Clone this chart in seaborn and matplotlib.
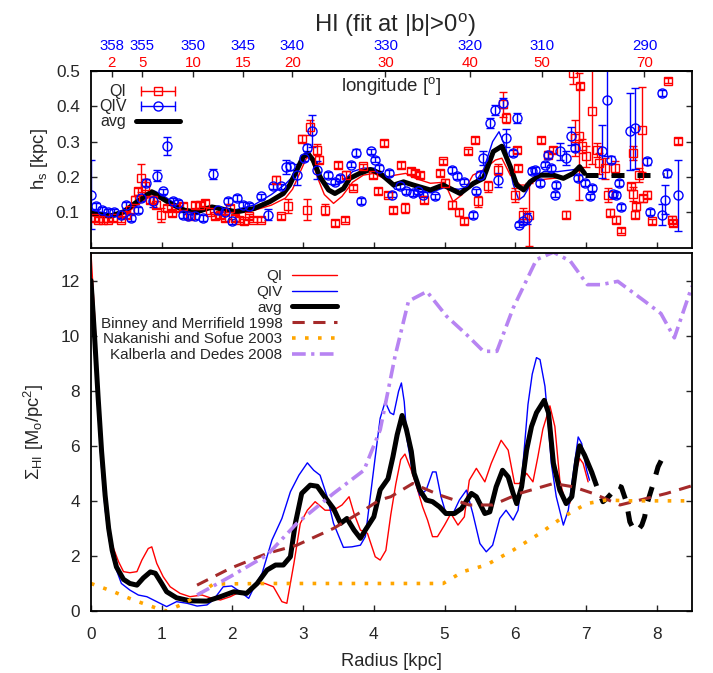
import numpy as np
import matplotlib
matplotlib.use("Agg")
import matplotlib.pyplot as plt
import seaborn as sns
from matplotlib.lines import Line2D
from matplotlib.legend_handler import HandlerLine2D, HandlerTuple

# ---------------- surface density profiles (bottom panel) ----------------
avg_r = [0.0, 0.05, 0.1, 0.15, 0.2, 0.25, 0.3, 0.36, 0.46, 0.55, 0.65, 0.74, 0.84, 0.91, 1.0,
         1.07, 1.21, 1.40, 1.64, 1.83, 2.02, 2.2, 2.35, 2.49, 2.61, 2.72, 2.82, 2.89, 2.98,
         3.1, 3.2, 3.29, 3.43, 3.53, 3.62, 3.72, 3.81, 3.88, 4.0, 4.09, 4.2, 4.27, 4.33, 4.4,
         4.46, 4.53, 4.57, 4.65, 4.74, 4.83, 4.93, 5.02, 5.14, 5.24, 5.38, 5.45, 5.57, 5.64,
         5.73, 5.82, 5.9, 5.97, 6.02, 6.09, 6.16, 6.23, 6.30, 6.41, 6.47, 6.54, 6.63, 6.72,
         6.8, 6.87, 6.91, 6.98, 7.08]
avg_s = [12.0, 10.0, 7.8, 5.8, 4.2, 3.0, 2.2, 1.6, 1.15, 1.0, 0.94, 1.2, 1.42, 1.37, 1.0,
         0.7, 0.48, 0.37, 0.36, 0.52, 0.70, 0.64, 1.0, 1.49, 1.67, 1.67, 1.97, 3.18, 4.27,
         4.57, 4.53, 4.2, 3.72, 3.18, 3.36, 2.94, 2.64, 2.94, 3.42, 4.4, 4.8, 5.6, 6.4, 7.1,
         6.6, 5.8, 5.0, 4.39, 4.03, 3.97, 3.78, 3.54, 3.54, 3.72, 4.27, 4.15, 3.54, 3.6,
         4.51, 5.11, 4.87, 4.27, 3.9, 4.51, 5.84, 6.7, 7.2, 7.65, 7.2, 5.36, 4.39, 3.9,
         4.15, 5.48, 6.0, 5.66, 5.05]
# outer part of the average profile (uncertain, drawn dashed)
avg_out_r = [7.08, 7.17, 7.24, 7.3, 7.38, 7.43, 7.5, 7.57, 7.62, 7.69, 7.74, 7.79, 7.83,
             7.86, 7.9, 7.96, 8.02, 8.09]
avg_out_s = [5.05, 4.4, 3.97, 4.1, 4.33, 4.57, 4.5, 3.97, 3.24, 2.88, 2.95, 3.12, 3.42,
             3.85, 4.2, 4.7, 5.24, 5.6]

qi_r = [0.0, 0.05, 0.1, 0.15, 0.2, 0.25, 0.3, 0.39, 0.46, 0.55, 0.65, 0.72, 0.81, 0.86, 0.93,
        1.02, 1.12, 1.26, 1.40, 1.57, 1.71, 1.83, 1.97, 2.11, 2.23, 2.35, 2.46, 2.58, 2.70,
        2.77, 2.87, 2.96, 3.06, 3.17, 3.31, 3.43, 3.55, 3.65, 3.72, 3.81, 3.91, 4.02, 4.09,
        4.17, 4.24, 4.31, 4.38, 4.44, 4.53, 4.62, 4.69, 4.76, 4.83, 4.90, 5.0, 5.09, 5.19,
        5.28, 5.35, 5.45, 5.57, 5.66, 5.80, 5.90, 5.99, 6.06, 6.16, 6.25, 6.32, 6.39, 6.49,
        6.56, 6.63, 6.70, 6.77, 6.84, 6.91, 6.96, 7.03]
qi_s = [13.0, 10.8, 8.3, 6.0, 4.3, 3.1, 2.4, 1.79, 1.43, 1.39, 1.43, 1.85, 2.27, 2.33, 1.73,
        1.25, 0.88, 0.64, 0.52, 0.58, 0.46, 0.40, 0.52, 0.70, 0.70, 1.0, 1.0, 0.88, 0.34,
        0.28, 1.73, 3.18, 3.66, 3.97, 3.66, 3.66, 3.85, 4.15, 3.54, 2.94, 2.82, 1.97, 1.85,
        2.2, 3.5, 4.6, 5.5, 5.7, 5.11, 4.39, 3.78, 3.30, 2.70, 2.70, 3.12, 3.54, 3.12,
        3.42, 4.75, 5.18, 4.69, 5.36, 6.2, 5.84, 4.63, 4.63, 5.0, 4.69, 5.6, 6.6, 7.45,
        6.7, 4.75, 4.03, 3.9, 4.87, 5.54, 5.36, 4.69]

qiv_r = [0.0, 0.05, 0.1, 0.15, 0.2, 0.25, 0.3, 0.36, 0.43, 0.55, 0.67, 0.79, 0.93, 1.07,
         1.21, 1.36, 1.50, 1.64, 1.73, 1.87, 1.99, 2.11, 2.23, 2.32, 2.42, 2.56, 2.70, 2.82,
         2.94, 3.06, 3.15, 3.24, 3.34, 3.43, 3.57, 3.69, 3.81, 3.88, 3.95, 4.02, 4.09, 4.16,
         4.23, 4.28, 4.35, 4.39, 4.43, 4.47, 4.55, 4.65, 4.74, 4.83, 4.88, 4.95, 5.02, 5.12,
         5.21, 5.31, 5.40, 5.50, 5.59, 5.68, 5.78, 5.87, 5.97, 6.04, 6.11, 6.18, 6.24, 6.30,
         6.35, 6.42, 6.47, 6.51, 6.58, 6.68, 6.75, 6.82, 6.89, 6.94, 7.01, 7.05]
qiv_s = [11.5, 9.5, 7.2, 5.2, 3.7, 2.7, 2.0, 1.49, 1.0, 0.76, 0.58, 0.52, 0.34, 0.16,
         0.34, 0.28, 0.18, 0.22, 0.40, 0.88, 0.91, 0.70, 0.46, 0.94, 1.37, 2.58, 3.36, 4.33,
         4.93, 5.38, 5.11, 4.93, 4.15, 3.18, 2.31, 2.33, 2.39, 2.70, 4.15, 5.6, 7.0, 7.6,
         7.2, 7.13, 7.98, 8.28, 7.6, 6.22, 5.0, 4.2, 4.39, 5.05, 5.05, 4.15, 3.54, 3.54,
         4.03, 4.39, 3.54, 2.45, 2.15, 2.39, 3.36, 3.66, 3.30, 3.66, 5.36, 7.5, 8.6, 9.2,
         9.13, 8.16, 6.7, 5.36, 4.15, 3.12, 3.66, 5.0, 6.32, 6.08, 5.11, 4.75]

# published profiles for comparison
bm_r = [1.5, 1.97, 2.49, 2.91, 3.43, 3.86, 4.08, 4.24, 4.55, 4.93, 5.35, 5.68, 6.06, 6.54,
        6.82, 7.1, 7.48, 7.86, 8.14, 8.5]
bm_s = [0.94, 1.55, 2.09, 2.39, 3.0, 3.66, 4.03, 4.15, 4.63, 4.21, 3.85, 3.85, 4.27, 4.63,
        4.51, 4.27, 3.85, 4.09, 4.27, 4.55]
ns_r = [0.0, 0.32, 0.6, 0.93, 1.07, 1.25, 1.40, 1.55, 1.73, 2.5, 3.5, 4.5, 4.98, 5.26, 5.59,
        5.97, 6.35, 6.68, 7.01, 7.29, 7.6, 8.0, 8.5]
ns_s = [1.0, 0.7, 0.4, 0.1, 0.0, 0.2, 0.4, 0.64, 0.98, 1.0, 1.0, 1.0, 1.0, 1.43, 1.67,
        2.21, 2.82, 3.42, 3.9, 4.03, 4.0, 4.0, 4.0]
kd_r = [1.5, 1.97, 2.49, 2.91, 3.43, 3.86, 4.09, 4.3, 4.49, 4.75, 5.03, 5.31, 5.55, 5.74,
        5.97, 6.3, 6.54, 6.78, 7.02, 7.21, 7.45, 7.83, 8.06, 8.25, 8.5]
kd_s = [0.58, 1.25, 2.03, 3.18, 4.27, 5.11, 6.58, 9.25, 11.25, 11.6, 10.7, 10.04, 9.43, 9.43,
        11.0, 12.76, 13.03, 12.7, 11.85, 11.85, 11.97, 11.25, 10.8, 9.92, 11.8]

# ---------------- scale heights (top panel) ----------------
havg_r = [0.0, 0.27, 0.46, 0.62, 0.79, 0.86, 0.97, 1.12, 1.31, 1.5, 1.71, 1.83, 2.06, 2.3,
          2.53, 2.72, 2.81, 2.91, 3.0, 3.07, 3.14, 3.24, 3.36, 3.45, 3.57, 3.66, 3.8, 3.95,
          4.09, 4.28, 4.42, 4.56, 4.8, 4.98, 5.22, 5.41, 5.55, 5.69, 5.81, 5.93, 6.02, 6.12,
          6.21, 6.35, 6.54, 6.68, 6.82, 6.91, 6.98]
havg_h = [0.097, 0.089, 0.101, 0.125, 0.149, 0.158, 0.144, 0.125, 0.106, 0.101, 0.115, 0.11,
          0.101, 0.11, 0.13, 0.153, 0.177, 0.219, 0.257, 0.266, 0.248, 0.2, 0.163, 0.153,
          0.167, 0.196, 0.21, 0.221, 0.21, 0.177, 0.186, 0.177, 0.163, 0.177, 0.153, 0.182,
          0.196, 0.272, 0.287, 0.229, 0.177, 0.163, 0.186, 0.205, 0.205, 0.196, 0.21, 0.229,
          0.21]
havg_out_r = [6.98, 8.1]
havg_out_h = [0.205, 0.205]

hqi_r = [0.0, 0.3, 0.5, 0.65, 0.8, 0.9, 1.0, 1.15, 1.35, 1.55, 1.75, 2.0, 2.3, 2.55, 2.75,
         2.85, 2.95, 3.05, 3.12, 3.2, 3.3, 3.43, 3.55, 3.7, 3.85, 4.0, 4.15, 4.3, 4.45, 4.6,
         4.8, 5.0, 5.12, 5.25, 5.4, 5.55, 5.72, 5.81, 5.93, 6.07, 6.16, 6.3, 6.54, 6.73, 6.91]
hqi_h = [0.09, 0.085, 0.097, 0.12, 0.14, 0.145, 0.135, 0.12, 0.105, 0.105, 0.115, 0.1, 0.105,
         0.12, 0.14, 0.165, 0.21, 0.255, 0.25, 0.2, 0.15, 0.125, 0.145, 0.185, 0.205, 0.21,
         0.195, 0.205, 0.21, 0.195, 0.182, 0.185, 0.13, 0.15, 0.205, 0.22, 0.248, 0.253,
         0.205, 0.177, 0.177, 0.191, 0.196, 0.2, 0.219]
hqiv_r = [0.0, 0.3, 0.5, 0.65, 0.8, 0.9, 1.0, 1.15, 1.35, 1.55, 1.75, 2.0, 2.3, 2.55, 2.75,
          2.85, 2.95, 3.05, 3.12, 3.2, 3.3, 3.43, 3.55, 3.7, 3.85, 4.0, 4.15, 4.3, 4.45, 4.6,
          4.8, 5.0, 5.2, 5.4, 5.55, 5.68, 5.77, 5.87, 5.97, 6.05, 6.12, 6.25, 6.4, 6.6, 6.8,
          6.95]
hqiv_h = [0.105, 0.095, 0.105, 0.13, 0.155, 0.16, 0.15, 0.13, 0.108, 0.1, 0.115, 0.105,
          0.12, 0.15, 0.18, 0.2, 0.235, 0.27, 0.255, 0.215, 0.185, 0.175, 0.185, 0.215,
          0.225, 0.225, 0.205, 0.165, 0.165, 0.16, 0.155, 0.17, 0.165, 0.175, 0.22, 0.3,
          0.328, 0.28, 0.18, 0.135, 0.145, 0.19, 0.215, 0.215, 0.22, 0.225]

# individual fits with uncertainties
pqi_r = [0.05, 0.1, 0.17, 0.24, 0.31, 0.43, 0.5, 0.55, 0.62, 0.66, 0.71, 0.76, 0.83, 0.88,
         0.92, 0.99, 1.07, 1.14, 1.2, 1.3, 1.4, 1.47, 1.54, 1.61, 1.68, 1.75, 1.82, 1.89,
         1.96, 2.03, 2.1, 2.17, 2.24, 2.29, 2.41, 2.62, 2.69, 2.78, 2.98, 3.05, 3.1, 3.19,
         3.23, 3.31, 3.45, 3.5, 3.59, 3.61, 3.71, 3.85, 3.99, 4.06, 4.14, 4.2, 4.27, 4.39,
         4.44, 4.53, 4.58, 4.65, 4.71, 4.93, 4.98, 5.0, 5.1, 5.21, 5.28, 5.33, 5.43, 5.47,
         5.61, 5.76, 5.83, 5.87, 5.99, 6.02, 6.04, 6.11, 6.2, 6.37, 6.47, 6.54, 6.72, 6.81,
         6.84, 6.9, 6.92, 6.95, 7.0, 7.08, 7.15, 7.19, 7.27, 7.31, 7.34, 7.41, 7.43, 7.5,
         7.63, 7.66, 7.66, 7.7, 7.71, 7.75, 7.79, 7.81, 7.86, 7.93, 8.16, 8.21, 8.23, 8.3]
pqi_h = [0.083, 0.079, 0.079, 0.079, 0.083, 0.079, 0.093, 0.107, 0.135, 0.159, 0.197, 0.173,
         0.135, 0.135, 0.121, 0.093, 0.112, 0.098, 0.112, 0.117, 0.088, 0.121, 0.121, 0.126,
         0.102, 0.088, 0.093, 0.083, 0.112, 0.083, 0.079, 0.074, 0.088, 0.079, 0.079, 0.192,
         0.088, 0.117, 0.308, 0.107, 0.34, 0.277, 0.249, 0.107, 0.07, 0.233, 0.079, 0.206,
         0.17, 0.23, 0.206, 0.161, 0.296, 0.15, 0.107, 0.233, 0.112, 0.216, 0.211, 0.206,
         0.136, 0.211, 0.244, 0.183, 0.121, 0.1, 0.076, 0.272, 0.305, 0.131, 0.173, 0.221,
         0.406, 0.367, 0.15, 0.277, 0.225, 0.093, 0.093, 0.305, 0.263, 0.277, 0.093, 0.494,
         0.31, 0.315, 0.457, 0.287, 0.258, 0.386, 0.277, 0.239, 0.225, 0.15, 0.098, 0.225,
         0.079, 0.048, 0.173, 0.268, 0.152, 0.093, 0.117, 0.206, 0.334, 0.14, 0.15, 0.074,
         0.473, 0.079, 0.07, 0.301]
pqi_e = [0.008, 0.008, 0.008, 0.008, 0.008, 0.008, 0.008, 0.008, 0.01, 0.01, 0.04, 0.02,
         0.01, 0.01, 0.01, 0.02, 0.008, 0.008, 0.008, 0.008, 0.008, 0.008, 0.008, 0.008,
         0.008, 0.008, 0.008, 0.008, 0.008, 0.008, 0.008, 0.008, 0.008, 0.008, 0.008, 0.01,
         0.008, 0.02, 0.01, 0.03, 0.02, 0.015, 0.01, 0.015, 0.008, 0.008, 0.008, 0.01,
         0.008, 0.008, 0.01, 0.008, 0.008, 0.008, 0.008, 0.008, 0.015, 0.008, 0.008, 0.008,
         0.01, 0.008, 0.008, 0.01, 0.01, 0.01, 0.008, 0.008, 0.008, 0.015, 0.015, 0.015,
         0.035, 0.015, 0.02, 0.008, 0.008, 0.02, 0.09, 0.008, 0.01, 0.008, 0.01, 0.03,
         0.05, 0.18, 0.008, 0.02, 0.03, 0.15, 0.02, 0.03, 0.03, 0.02, 0.01, 0.02,
         0.01, 0.008, 0.01, 0.02, 0.02, 0.01, 0.01, 0.02, 0.12, 0.01, 0.01, 0.008,
         0.008, 0.01, 0.008, 0.008]

pqiv_r = [0.0, 0.075, 0.15, 0.24, 0.33, 0.43, 0.5, 0.57, 0.66, 0.71, 0.78, 0.88, 0.94, 1.02,
          1.08, 1.16, 1.23, 1.3, 1.37, 1.47, 1.58, 1.72, 1.8, 1.89, 1.94, 2.0, 2.07, 2.15,
          2.24, 2.41, 2.5, 2.57, 2.69, 2.76, 2.81, 2.92, 3.01, 3.06, 3.12, 3.19, 3.35, 3.45,
          3.52, 3.68, 3.75, 3.82, 3.96, 4.01, 4.08, 4.22, 4.25, 4.37, 4.46, 4.55, 4.62, 4.7,
          4.86, 5.1, 5.17, 5.28, 5.4, 5.45, 5.5, 5.55, 5.64, 5.72, 5.76, 5.83, 5.87, 5.97,
          6.02, 6.06, 6.11, 6.16, 6.23, 6.28, 6.35, 6.42, 6.47, 6.51, 6.56, 6.58, 6.63, 6.72,
          6.79, 6.84, 6.89, 6.98, 7.05, 7.09, 7.22, 7.3, 7.35, 7.38, 7.42, 7.47, 7.5, 7.62,
          7.7, 7.86, 7.9, 8.07, 8.08, 8.12, 8.14, 8.3]
pqiv_h = [0.15, 0.117, 0.107, 0.102, 0.102, 0.093, 0.121, 0.083, 0.107, 0.14, 0.183, 0.131,
          0.204, 0.159, 0.287, 0.131, 0.126, 0.093, 0.088, 0.088, 0.083, 0.208, 0.107, 0.102,
          0.131, 0.074, 0.14, 0.121, 0.117, 0.145, 0.093, 0.173, 0.173, 0.227, 0.23, 0.206,
          0.254, 0.282, 0.329, 0.22, 0.206, 0.187, 0.197, 0.235, 0.268, 0.131, 0.272, 0.249,
          0.225, 0.211, 0.15, 0.173, 0.159, 0.154, 0.159, 0.15, 0.145, 0.22, 0.202, 0.187,
          0.093, 0.159, 0.206, 0.254, 0.353, 0.39, 0.192, 0.409, 0.31, 0.268, 0.367, 0.065,
          0.074, 0.083, 0.216, 0.22, 0.183, 0.235, 0.263, 0.225, 0.15, 0.178, 0.272, 0.254,
          0.315, 0.282, 0.197, 0.183, 0.145, 0.168, 0.272, 0.419, 0.249, 0.152, 0.148, 0.183,
          0.114, 0.329, 0.338, 0.244, 0.1, 0.438, 0.093, 0.136, 0.211, 0.148]
pqiv_e = [0.097, 0.008, 0.008, 0.008, 0.008, 0.008, 0.008, 0.008, 0.008, 0.008, 0.01, 0.015,
          0.015, 0.008, 0.025, 0.008, 0.008, 0.008, 0.008, 0.008, 0.008, 0.015, 0.008, 0.008,
          0.008, 0.008, 0.008, 0.008, 0.008, 0.008, 0.015, 0.008, 0.008, 0.02, 0.01, 0.03,
          0.008, 0.01, 0.045, 0.025, 0.008, 0.008, 0.008, 0.008, 0.01, 0.008, 0.008, 0.008,
          0.008, 0.008, 0.008, 0.008, 0.008, 0.008, 0.008, 0.008, 0.008, 0.008, 0.008, 0.008,
          0.008, 0.008, 0.01, 0.02, 0.015, 0.015, 0.02, 0.015, 0.025, 0.008, 0.015, 0.008,
          0.008, 0.015, 0.008, 0.008, 0.008, 0.008, 0.008, 0.008, 0.008, 0.008, 0.025, 0.02,
          0.025, 0.01, 0.008, 0.008, 0.008, 0.008, 0.075, 0.16, 0.01, 0.008, 0.008, 0.008,
          0.008, 0.11, 0.115, 0.01, 0.008, 0.008, 0.03, 0.04, 0.01, 0.1]

# longitude labels of the upper axis (QI: l, QIV: 360 - l)
lon_qi = [2, 5, 10, 15, 20, 30, 40, 50, 70]
lon_qiv = [358, 355, 350, 345, 340, 330, 320, 310, 290]
R_SUN = 8.33

# ---------------- styling ----------------
sns.set_theme(style="ticks")
plt.rcParams["font.family"] = ["Liberation Sans", "DejaVu Sans"]
plt.rcParams["mathtext.fontset"] = "custom"
plt.rcParams["mathtext.rm"] = "Liberation Sans"
plt.rcParams["mathtext.it"] = "Liberation Sans"
plt.rcParams["mathtext.default"] = "regular"
plt.rcParams["axes.linewidth"] = 1.3
plt.rcParams["axes.edgecolor"] = "black"

RED, BLUE = "#ff0000", "#0000ff"
BROWN, ORANGE, PURPLE = "#a52a2a", "#ffa500", "#b784f2"
TICK_FS, LABEL_FS = 12.4, 13.2

fig = plt.figure(figsize=(7.13, 6.73), dpi=100)
ax1 = fig.add_axes([0.1276, 0.6322, 0.843, 0.2623])
ax2 = fig.add_axes([0.1276, 0.0921, 0.843, 0.532])

# ---------------- top panel: scale height ----------------
sns.lineplot(x=hqi_r, y=hqi_h, ax=ax1, color=RED, linewidth=1.0, estimator=None, sort=False)
sns.lineplot(x=hqiv_r, y=hqiv_h, ax=ax1, color=BLUE, linewidth=1.0, estimator=None, sort=False)
ax1.errorbar(pqi_r, pqi_h, yerr=pqi_e, fmt="s", ms=6, mfc="none", mec=RED, mew=1.0,
             ecolor=RED, elinewidth=1.0, capsize=3, capthick=1.0)
ax1.errorbar(pqiv_r, pqiv_h, yerr=pqiv_e, fmt="o", ms=6.5, mfc="none", mec=BLUE, mew=1.0,
             ecolor=BLUE, elinewidth=1.0, capsize=3, capthick=1.0)
sns.lineplot(x=havg_r, y=havg_h, ax=ax1, color="black", linewidth=3.6, estimator=None,
             sort=False)
sns.lineplot(x=havg_out_r, y=havg_out_h, ax=ax1, color="black", linewidth=3.6,
             linestyle=(0, (2.6, 2.6)), estimator=None, sort=False)

ax1.set_xlim(0, 8.5)
ax1.set_ylim(0, 0.5)
ax1.set_yticks([0.1, 0.2, 0.3, 0.4, 0.5])
ax1.set_xticks(range(0, 9))
ax1.tick_params(axis="both", direction="in", length=4.5, width=1.0, labelsize=TICK_FS,
                top=False, right=True, labelbottom=False)
ax1.tick_params(axis="y", pad=8)
ax1.set_xlabel("")
ax1.set_ylabel("h$_s$ [kpc]", fontsize=LABEL_FS)
ax1.yaxis.set_label_coords(-0.068, 0.5)
ax1.text(0.5, 0.888, "longitude [$^{o}$]", transform=ax1.transAxes, ha="center",
         va="baseline", fontsize=13.5)

pos = R_SUN * np.sin(np.deg2rad(lon_qi))
sec_red = ax1.secondary_xaxis("top")
sec_red.set_xticks(pos, labels=[str(v) for v in lon_qi])
sec_red.tick_params(direction="in", length=4.5, width=1.0, pad=1.0, labelsize=10.8,
                    labelcolor=RED)
sec_blue = ax1.secondary_xaxis("top")
sec_blue.set_xticks(pos, labels=[str(v) for v in lon_qiv])
sec_blue.tick_params(length=0, pad=13.2, labelsize=10.8, labelcolor=BLUE)
sec_blue.spines["top"].set_visible(False)

cap_qi = Line2D([], [], color=RED, lw=1.0, marker="|", ms=7, mew=1.0)
mk_qi = Line2D([], [], ls="none", marker="s", ms=6, mfc="none", mec=RED, mew=1.0)
cap_qiv = Line2D([], [], color=BLUE, lw=1.0, marker="|", ms=7, mew=1.0)
mk_qiv = Line2D([], [], ls="none", marker="o", ms=6.5, mfc="none", mec=BLUE, mew=1.0)
avg_h = Line2D([], [], color="black", lw=3.6)
ax1.legend([(cap_qi, mk_qi), (cap_qiv, mk_qiv), avg_h], ["QI", "QIV", "avg"],
           handler_map={cap_qi: HandlerLine2D(numpoints=2),
                        cap_qiv: HandlerLine2D(numpoints=2),
                        tuple: HandlerTuple(ndivide=1)},
           loc="upper right", bbox_to_anchor=(0.148, 0.925), borderaxespad=0, borderpad=0,
           frameon=False, markerfirst=False, fontsize=11.5, handlelength=2.75,
           handletextpad=0.6, labelspacing=0.0)

# ---------------- bottom panel: surface density ----------------
sns.lineplot(x=qi_r, y=qi_s, ax=ax2, color=RED, linewidth=1.0, estimator=None, sort=False,
             label="QI")
sns.lineplot(x=qiv_r, y=qiv_s, ax=ax2, color=BLUE, linewidth=1.0, estimator=None,
             sort=False, label="QIV")
sns.lineplot(x=avg_r, y=avg_s, ax=ax2, color="black", linewidth=3.6, estimator=None,
             sort=False, label="avg")
sns.lineplot(x=avg_out_r, y=avg_out_s, ax=ax2, color="black", linewidth=3.6,
             linestyle=(0, (3.0, 2.6)), estimator=None, sort=False)
sns.lineplot(x=bm_r, y=bm_s, ax=ax2, color=BROWN, linewidth=2.2,
             linestyle=(0, (4.0, 2.8)), estimator=None, sort=False,
             label="Binney and Merrifield 1998")
sns.lineplot(x=ns_r, y=ns_s, ax=ax2, color=ORANGE, linewidth=2.6,
             linestyle=(0, (1.0, 2.6)), estimator=None, sort=False,
             label="Nakanishi and Sofue 2003")
sns.lineplot(x=kd_r, y=kd_s, ax=ax2, color=PURPLE, linewidth=2.6,
             linestyle=(0, (3.8, 1.5, 0.9, 1.5)), estimator=None, sort=False,
             label="Kalberla and Dedes 2008")

ax2.set_xlim(0, 8.5)
ax2.set_ylim(0, 13)
ax2.set_xticks(range(0, 9))
ax2.set_yticks(range(0, 13, 2))
ax2.tick_params(axis="both", direction="in", length=4.5, width=1.0, labelsize=TICK_FS,
                top=False, right=True)
ax2.tick_params(axis="x", pad=11.4)
ax2.tick_params(axis="y", pad=8)
ax2.set_xlabel("Radius [kpc]", fontsize=LABEL_FS)
ax2.xaxis.set_label_coords(0.5, -0.1165)
ax2.set_ylabel("$\\Sigma_{HI}$ [M$_o$/pc$^2$]", fontsize=LABEL_FS)
ax2.yaxis.set_label_coords(-0.075, 0.5)
ax2.legend(loc="upper right", bbox_to_anchor=(0.41, 0.955), borderaxespad=0, borderpad=0,
           frameon=False, markerfirst=False, fontsize=11, handlelength=3.0,
           handletextpad=0.6, labelspacing=0.12)

fig.text(395 / 713, 1 - 32 / 673, "HI (fit at |b|>0$^{o}$)", ha="center", va="baseline",
         fontsize=17.2)

fig.savefig("out.png", dpi=100)
